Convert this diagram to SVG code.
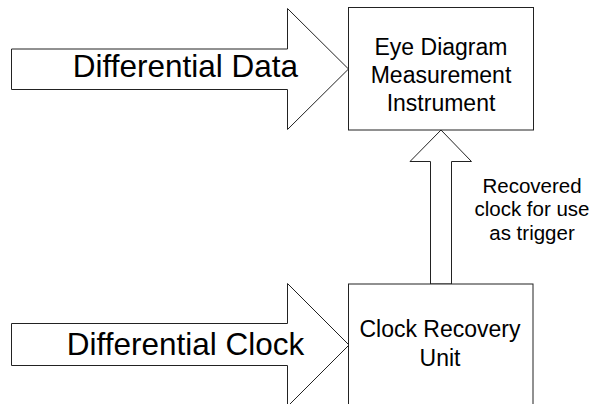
<svg xmlns="http://www.w3.org/2000/svg" width="593" height="404" viewBox="0 0 593 404">
<style>
.shape{fill:#fff;stroke:#222;stroke-width:1}
.t{font-family:"Liberation Sans",Arial,sans-serif;fill:#000;text-anchor:middle}
.big{font-size:31.5px}
.mid{font-size:23px}
.sm{font-size:20.5px}
</style>
<rect width="593" height="404" fill="#fff"/>
<g id="connectors">
<g id="arrow-data">
<polygon class="shape" points="11.5,49 287.5,49 287.5,8.5 348.5,69 287.5,129.5 287.5,89.5 11.5,89.5"/>
<text class="t big" x="185.5" y="77">Differential Data</text>
</g>
<g id="arrow-clock">
<polygon class="shape" points="11.5,323.5 287.5,323.5 287.5,283.5 349,345 287.5,406.5 287.5,365.5 11.5,365.5"/>
<text class="t big" x="185.5" y="355">Differential Clock</text>
</g>
<g id="arrow-trigger">
<polygon class="shape" points="430.5,284 430.5,161.5 410,161.5 441,130 471.5,161.5 451.5,161.5 451.5,284"/>
<text class="t sm" x="532" y="193">Recovered</text>
<text class="t sm" x="532" y="216">clock for use</text>
<text class="t sm" x="532" y="239.5">as trigger</text>
</g>
</g>
<g id="eye-diagram">
<rect class="shape" x="348.5" y="7.5" width="185" height="122.5"/>
<text class="t mid" x="441" y="54.5">Eye Diagram</text>
<text class="t mid" x="441" y="83">Measurement</text>
<text class="t mid" x="441" y="111">Instrument</text>
</g>
<g id="clock-recovery">
<rect class="shape" x="348.5" y="284" width="184.5" height="130"/>
<text class="t mid" x="440" y="337">Clock Recovery</text>
<text class="t mid" x="440" y="366">Unit</text>
</g>
</svg>
